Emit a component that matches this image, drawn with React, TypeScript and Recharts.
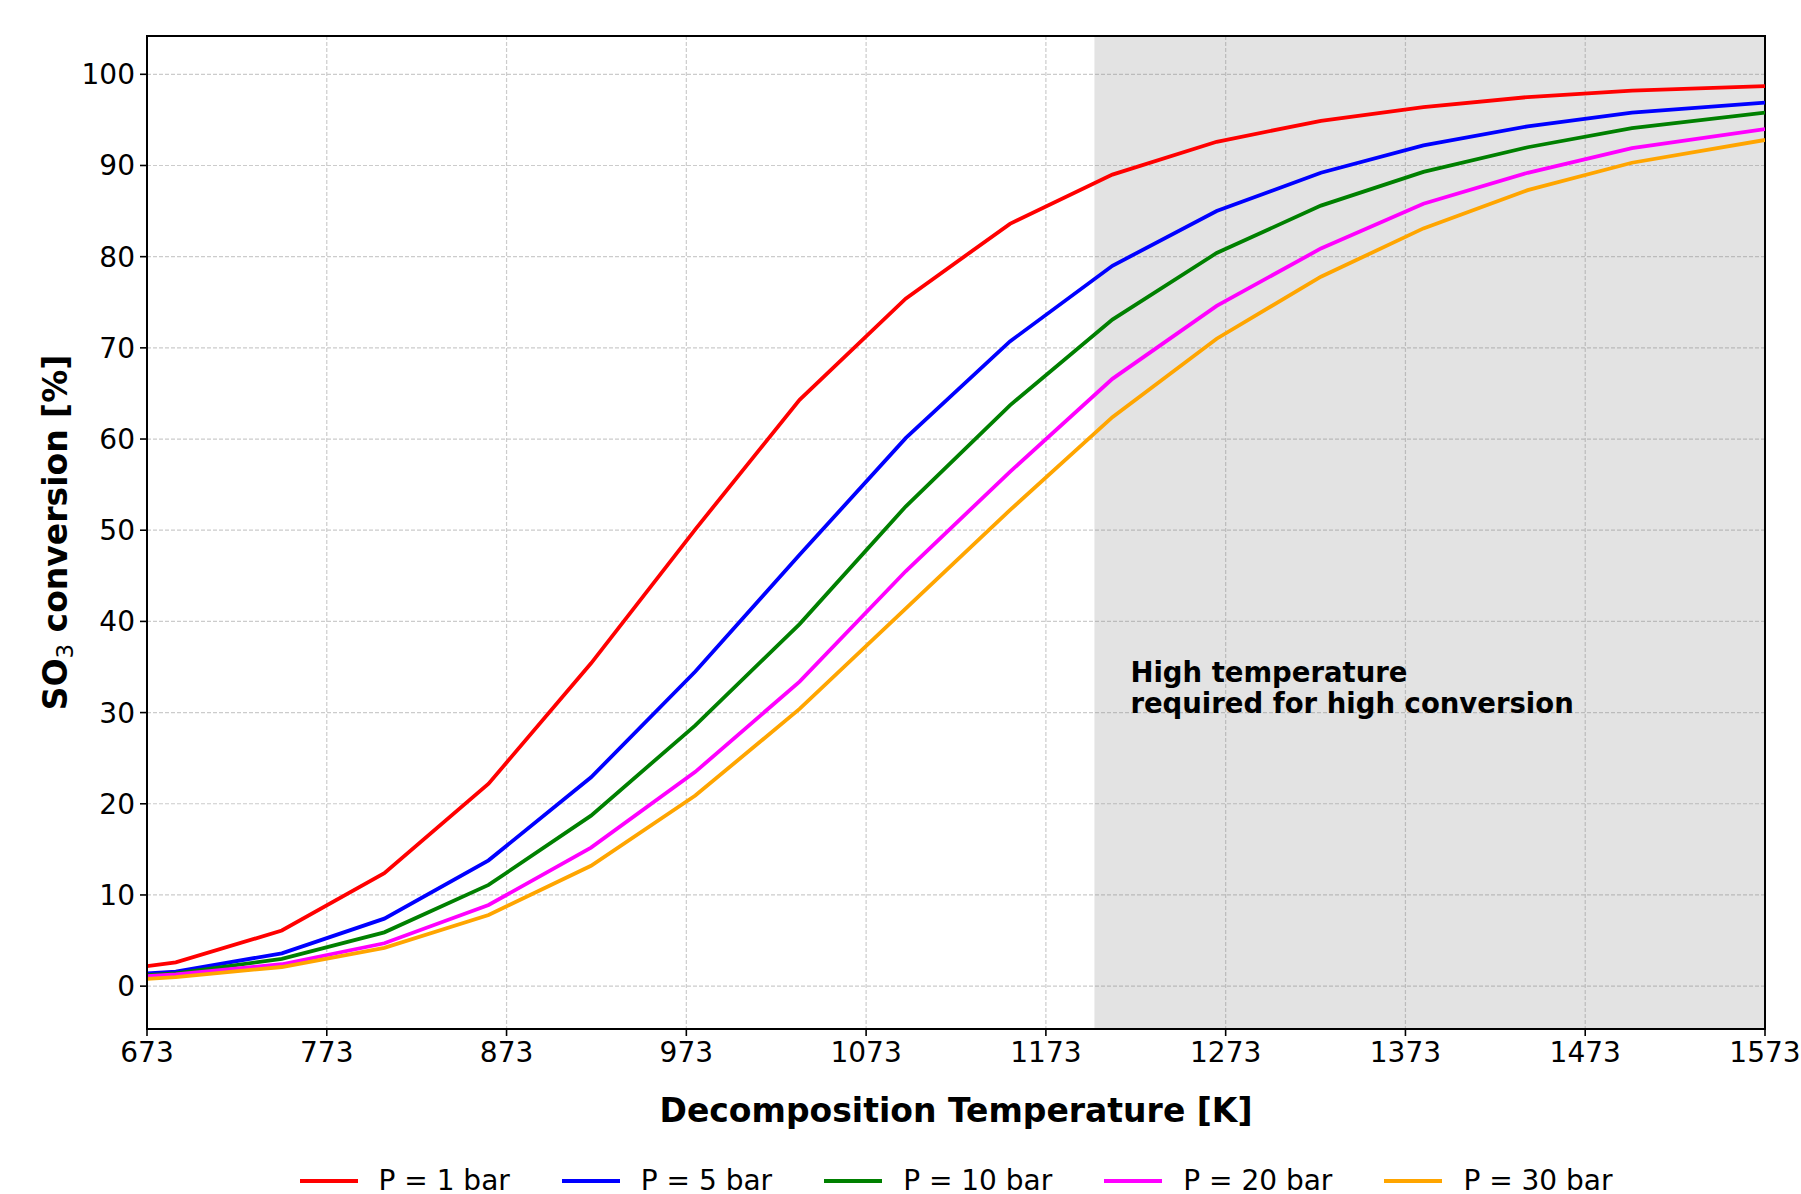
import React from 'react';
import {
  LineChart,
  Line,
  XAxis,
  YAxis,
  CartesianGrid,
  ReferenceArea,
  ReferenceDot,
  Legend,
} from 'recharts';

// Decomposition temperatures [K]
const temperatures = [673, 689, 748, 805, 863, 920, 978, 1036, 1095, 1153, 1210, 1268, 1326, 1383, 1441, 1499, 1573];

// SO3 conversion [%] per pressure
const conv1bar = [2.2, 2.6, 6.1, 12.4, 22.2, 35.4, 50.1, 64.3, 75.4, 83.6, 89.0, 92.6, 94.9, 96.4, 97.5, 98.2, 98.7];
const conv5bar = [1.4, 1.6, 3.6, 7.4, 13.8, 22.9, 34.5, 47.3, 60.1, 70.7, 79.0, 85.0, 89.2, 92.2, 94.3, 95.8, 96.9];
const conv10bar = [1.2, 1.4, 3.0, 5.9, 11.1, 18.7, 28.6, 39.7, 52.6, 63.7, 73.1, 80.4, 85.6, 89.3, 92.0, 94.1, 95.8];
const conv20bar = [1.1, 1.3, 2.4, 4.7, 8.9, 15.2, 23.5, 33.4, 45.5, 56.4, 66.6, 74.6, 80.9, 85.8, 89.2, 91.9, 94.0];
const conv30bar = [0.8, 1.0, 2.1, 4.2, 7.8, 13.2, 20.9, 30.4, 41.4, 52.2, 62.4, 71.0, 77.8, 83.1, 87.3, 90.3, 92.8];

const seriesKeys = ['p1', 'p5', 'p10', 'p20', 'p30'];
const seriesNames = ['P = 1 bar', 'P = 5 bar', 'P = 10 bar', 'P = 20 bar', 'P = 30 bar'];
const seriesColors = ['#ff0000', '#0000ff', '#008000', '#ff00ff', '#ffa500'];

const xTicks = [673, 773, 873, 973, 1073, 1173, 1273, 1373, 1473, 1573];
const yTicks = [0, 10, 20, 30, 40, 50, 60, 70, 80, 90, 100];

const xDomain = [673, 1573];
const yDomain = [-4.7, 104.2];
const shadeStart = 1200;
const annotationPoint = { x: 1220, y: 30 };
const annotationLines = ['High temperature', 'required for high conversion'];

const seriesValues = [conv1bar, conv5bar, conv10bar, conv20bar, conv30bar];
const data = temperatures.map((t, i) => {
  const row: Record<string, number> = { T: t };
  seriesKeys.forEach((k, j) => {
    row[k] = seriesValues[j][i];
  });
  return row;
});

const FONT = '"DejaVu Sans", sans-serif';

const renderLegend = () => (
  <div
    style={{
      display: 'flex',
      justifyContent: 'center',
      alignItems: 'center',
      fontFamily: FONT,
      fontSize: 28,
      lineHeight: '32px',
      color: '#000',
      whiteSpace: 'nowrap',
    }}
  >
    {seriesNames.map((name, i) => (
      <div
        key={name}
        style={{
          display: 'flex',
          alignItems: 'center',
          marginRight: i === seriesNames.length - 1 ? 0 : 52,
        }}
      >
        <svg width={58} height={8} style={{ display: 'block' }}>
          <line x1={0} y1={4} x2={58} y2={4} stroke={seriesColors[i]} strokeWidth={4} />
        </svg>
        <span style={{ marginLeft: 21 }}>{name}</span>
      </div>
    ))}
  </div>
);

const AnnotationShape = (props: any) => {
  const { cx, cy } = props;
  if (cx == null || cy == null) return null;
  const lh = 31;
  return (
    <text
      x={cx}
      y={cy - lh * (annotationLines.length - 1)}
      fontFamily={FONT}
      fontSize={27.5}
      fontWeight="bold"
      fill="#000"
    >
      {annotationLines.map((l, i) => (
        <tspan key={i} x={cx} dy={i === 0 ? 0 : lh}>
          {l}
        </tspan>
      ))}
    </text>
  );
};

const XLabel = (props: any) => {
  const vb = props.viewBox || {};
  const cx = vb.x + vb.width / 2;
  return (
    <text
      x={cx}
      y={1122}
      textAnchor="middle"
      fontFamily={FONT}
      fontSize={33}
      fontWeight="bold"
      fill="#000"
    >
      Decomposition Temperature [K]
    </text>
  );
};

const YLabel = (props: any) => {
  const vb = props.viewBox || {};
  const cy = vb.y + vb.height / 2;
  const x = 67;
  return (
    <text
      x={x}
      y={cy}
      textAnchor="middle"
      transform={`rotate(-90, ${x}, ${cy})`}
      fontFamily={FONT}
      fontSize={33}
      fontWeight="bold"
      fill="#000"
    >
      <tspan>SO</tspan>
      <tspan fontSize={23} fontWeight="normal" dy={6}>3</tspan>
      <tspan dy={-6}> conversion [%]</tspan>
    </text>
  );
};

export default function App() {
  return (
    <div style={{ position: 'absolute', left: 0, top: 0, width: 1801, height: 1194, background: '#fff' }}>
      <LineChart
        width={1801}
        height={1194}
        data={data}
        margin={{ top: 36, right: 36, bottom: 105, left: 47 }}
      >
        <CartesianGrid stroke="#cccccc" strokeWidth={1.2} strokeDasharray="4 2" />
        <ReferenceArea
          x1={shadeStart}
          x2={xDomain[1]}
          y1={yDomain[0]}
          y2={yDomain[1]}
          fill="#808080"
          fillOpacity={0.22}
          stroke="none"
        />
        <XAxis
          dataKey="T"
          type="number"
          domain={xDomain}
          ticks={xTicks}
          allowDataOverflow
          height={60}
          tickSize={7}
          tickMargin={6}
          axisLine={{ stroke: '#000', strokeWidth: 2 }}
          tickLine={{ stroke: '#000', strokeWidth: 1.6 }}
          tick={{ fill: '#000', fontSize: 28, fontFamily: FONT }}
          interval={0}
          label={<XLabel />}
        />
        <YAxis
          type="number"
          domain={yDomain}
          ticks={yTicks}
          allowDataOverflow
          width={100}
          tickSize={7}
          tickMargin={5}
          axisLine={{ stroke: '#000', strokeWidth: 2 }}
          tickLine={{ stroke: '#000', strokeWidth: 1.6 }}
          tick={{ fill: '#000', fontSize: 28, fontFamily: FONT }}
          interval={0}
          label={<YLabel />}
        />
        {seriesKeys.map((k, i) => (
          <Line
            key={k}
            type="linear"
            dataKey={k}
            name={seriesNames[i]}
            stroke={seriesColors[i]}
            strokeWidth={3.8}
            dot={false}
            activeDot={false}
            isAnimationActive={false}
          />
        ))}
        <ReferenceArea
          x1={xDomain[0]}
          x2={xDomain[1]}
          y1={yDomain[0]}
          y2={yDomain[1]}
          fill="none"
          stroke="#000"
          strokeWidth={2}
        />
        <ReferenceDot
          x={annotationPoint.x}
          y={annotationPoint.y}
          r={0}
          shape={<AnnotationShape />}
        />
        <Legend
          layout="horizontal"
          verticalAlign="middle"
          align="center"
          content={renderLegend}
          wrapperStyle={{ position: 'absolute', left: 147, top: 1165, width: 1618, height: 32 }}
        />
      </LineChart>
    </div>
  );
}
